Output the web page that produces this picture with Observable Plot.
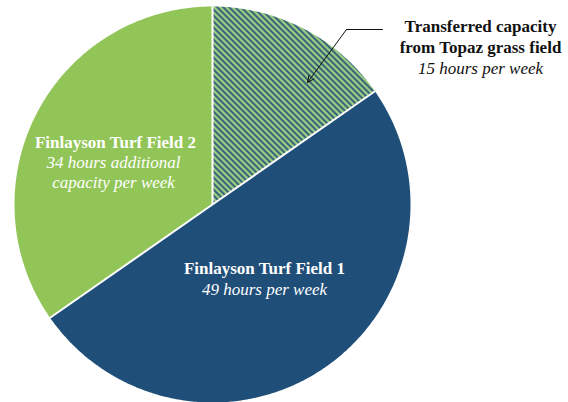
<!DOCTYPE html>
<html>
<head>
<meta charset="utf-8">
<script src="https://cdn.jsdelivr.net/npm/d3@7"></script>
<script src="https://cdn.jsdelivr.net/npm/@observablehq/plot@0.6"></script>
<style>
  html, body { margin: 0; padding: 0; background: #fff; }
  #chart { width: 568px; height: 402px; overflow: hidden; }
</style>
</head>
<body>
<div id="chart"></div>
<script>
// ---- data ----
const categories = ["Transferred capacity from Topaz grass field", "Finlayson Turf Field 1", "Finlayson Turf Field 2"];
const hours = [15, 49, 34];
const titleLines = [["Transferred capacity", "from Topaz grass field"], ["Finlayson Turf Field 1"], ["Finlayson Turf Field 2"]];
const subtitleLines = [["15 hours per week"], ["49 hours per week"], ["34 hours additional", "capacity per week"]];

// ---- geometry built from the values ----
const W = 568, H = 402;
const R = 198, CX = 212, CY = 204;              // pixel frame of the pie
const xDomain = [-CX / R, (W - CX) / R];
const yDomain = [-(H - CY) / R, CY / R];
const pie = d3.pie().sort(null).value(d => d)(hours);  // clockwise from 12 o'clock

const polys = [];
pie.forEach((s, i) => {
  polys.push({slice: categories[i], x: 0, y: 0});
  const n = Math.max(8, Math.ceil((s.endAngle - s.startAngle) / 0.01));
  for (let k = 0; k <= n; k++) {
    const a = s.startAngle + (s.endAngle - s.startAngle) * k / n;
    polys.push({slice: categories[i], x: Math.sin(a), y: Math.cos(a)});
  }
});
const boundaries = pie.map(s => ({x: Math.sin(s.startAngle), y: Math.cos(s.startAngle)}));

const fills = ["url(#hatch)", "#1f4e79", "#92c557"];

// label anchors (in radius units) for the annotations
const P = (px, py) => [(px - CX) / R, (CY - py) / R];
const labelAnchors = [
  {title: P(480, 26), sub: P(480, 68), color: "#111", step: 21},
  {title: P(264, 268), sub: P(264, 289), color: "#fff", step: 20},
  {title: P(115, 142), sub: P(113, 162), color: "#fff", step: 20.5}
];
const titles = [], subs = [];
labelAnchors.forEach((a, i) => {
  titleLines[i].forEach((t, j) => titles.push({text: t, x: a.title[0], y: a.title[1] - j * a.step / R, color: a.color}));
  subtitleLines[i].forEach((t, j) => subs.push({text: t, x: a.sub[0], y: a.sub[1] - j * a.step / R, color: a.color}));
});

const leader = [P(382, 29), P(346, 29)].map(([x, y]) => ({x, y}));
const arrowStart = P(346, 29), arrowEnd = P(307, 82);

const chart = Plot.plot({
  width: W, height: H,
  margin: 0,
  x: {domain: xDomain, axis: null},
  y: {domain: yDomain, axis: null},
  style: {background: "#fff"},
  marks: [
    ...categories.map((c, i) => Plot.line(polys.filter(d => d.slice === c), {x: "x", y: "y", fill: fills[i], stroke: "none", curve: "linear"})),
    Plot.link(boundaries, {x1: 0, y1: 0, x2: "x", y2: "y", stroke: "#fff", strokeWidth: 2}),
    Plot.line(leader, {x: "x", y: "y", stroke: "#111", strokeWidth: 1}),
    Plot.arrow([0], {x1: arrowStart[0], y1: arrowStart[1], x2: arrowEnd[0], y2: arrowEnd[1], stroke: "#111", strokeWidth: 1, headLength: 11, headAngle: 50}),
    Plot.text(titles, {x: "x", y: "y", text: "text", fill: "color", fontWeight: "bold", fontSize: 17, fontFamily: "Liberation Serif", textAnchor: "middle"}),
    Plot.text(subs, {x: "x", y: "y", text: "text", fill: "color", fontStyle: "italic", fontSize: 17, fontFamily: "Liberation Serif", textAnchor: "middle"})
  ]
});

// hatch pattern definition: "\" stripes, dark/light
const ns = "http://www.w3.org/2000/svg";
const defs = document.createElementNS(ns, "defs");
const pat = document.createElementNS(ns, "pattern");
pat.setAttribute("id", "hatch");
pat.setAttribute("patternUnits", "userSpaceOnUse");
pat.setAttribute("width", "6");
pat.setAttribute("height", "6");
const bg = document.createElementNS(ns, "rect");
bg.setAttribute("width", "6"); bg.setAttribute("height", "6"); bg.setAttribute("fill", "#a6d483");
const band = document.createElementNS(ns, "path");
const h = 1.3; // half horizontal width of the dark band
band.setAttribute("d", `M0,0L${h},0L6,${6 - h}L6,6L${6 - h},6L0,${h}Z M${6 - h},0L6,0L6,${h}Z M0,${6 - h}L${h},6L0,6Z`);
band.setAttribute("fill", "#1f4e79");
pat.appendChild(bg); pat.appendChild(band);
defs.appendChild(pat);
chart.insertBefore(defs, chart.firstChild);

document.getElementById("chart").appendChild(chart);
</script>
</body>
</html>
